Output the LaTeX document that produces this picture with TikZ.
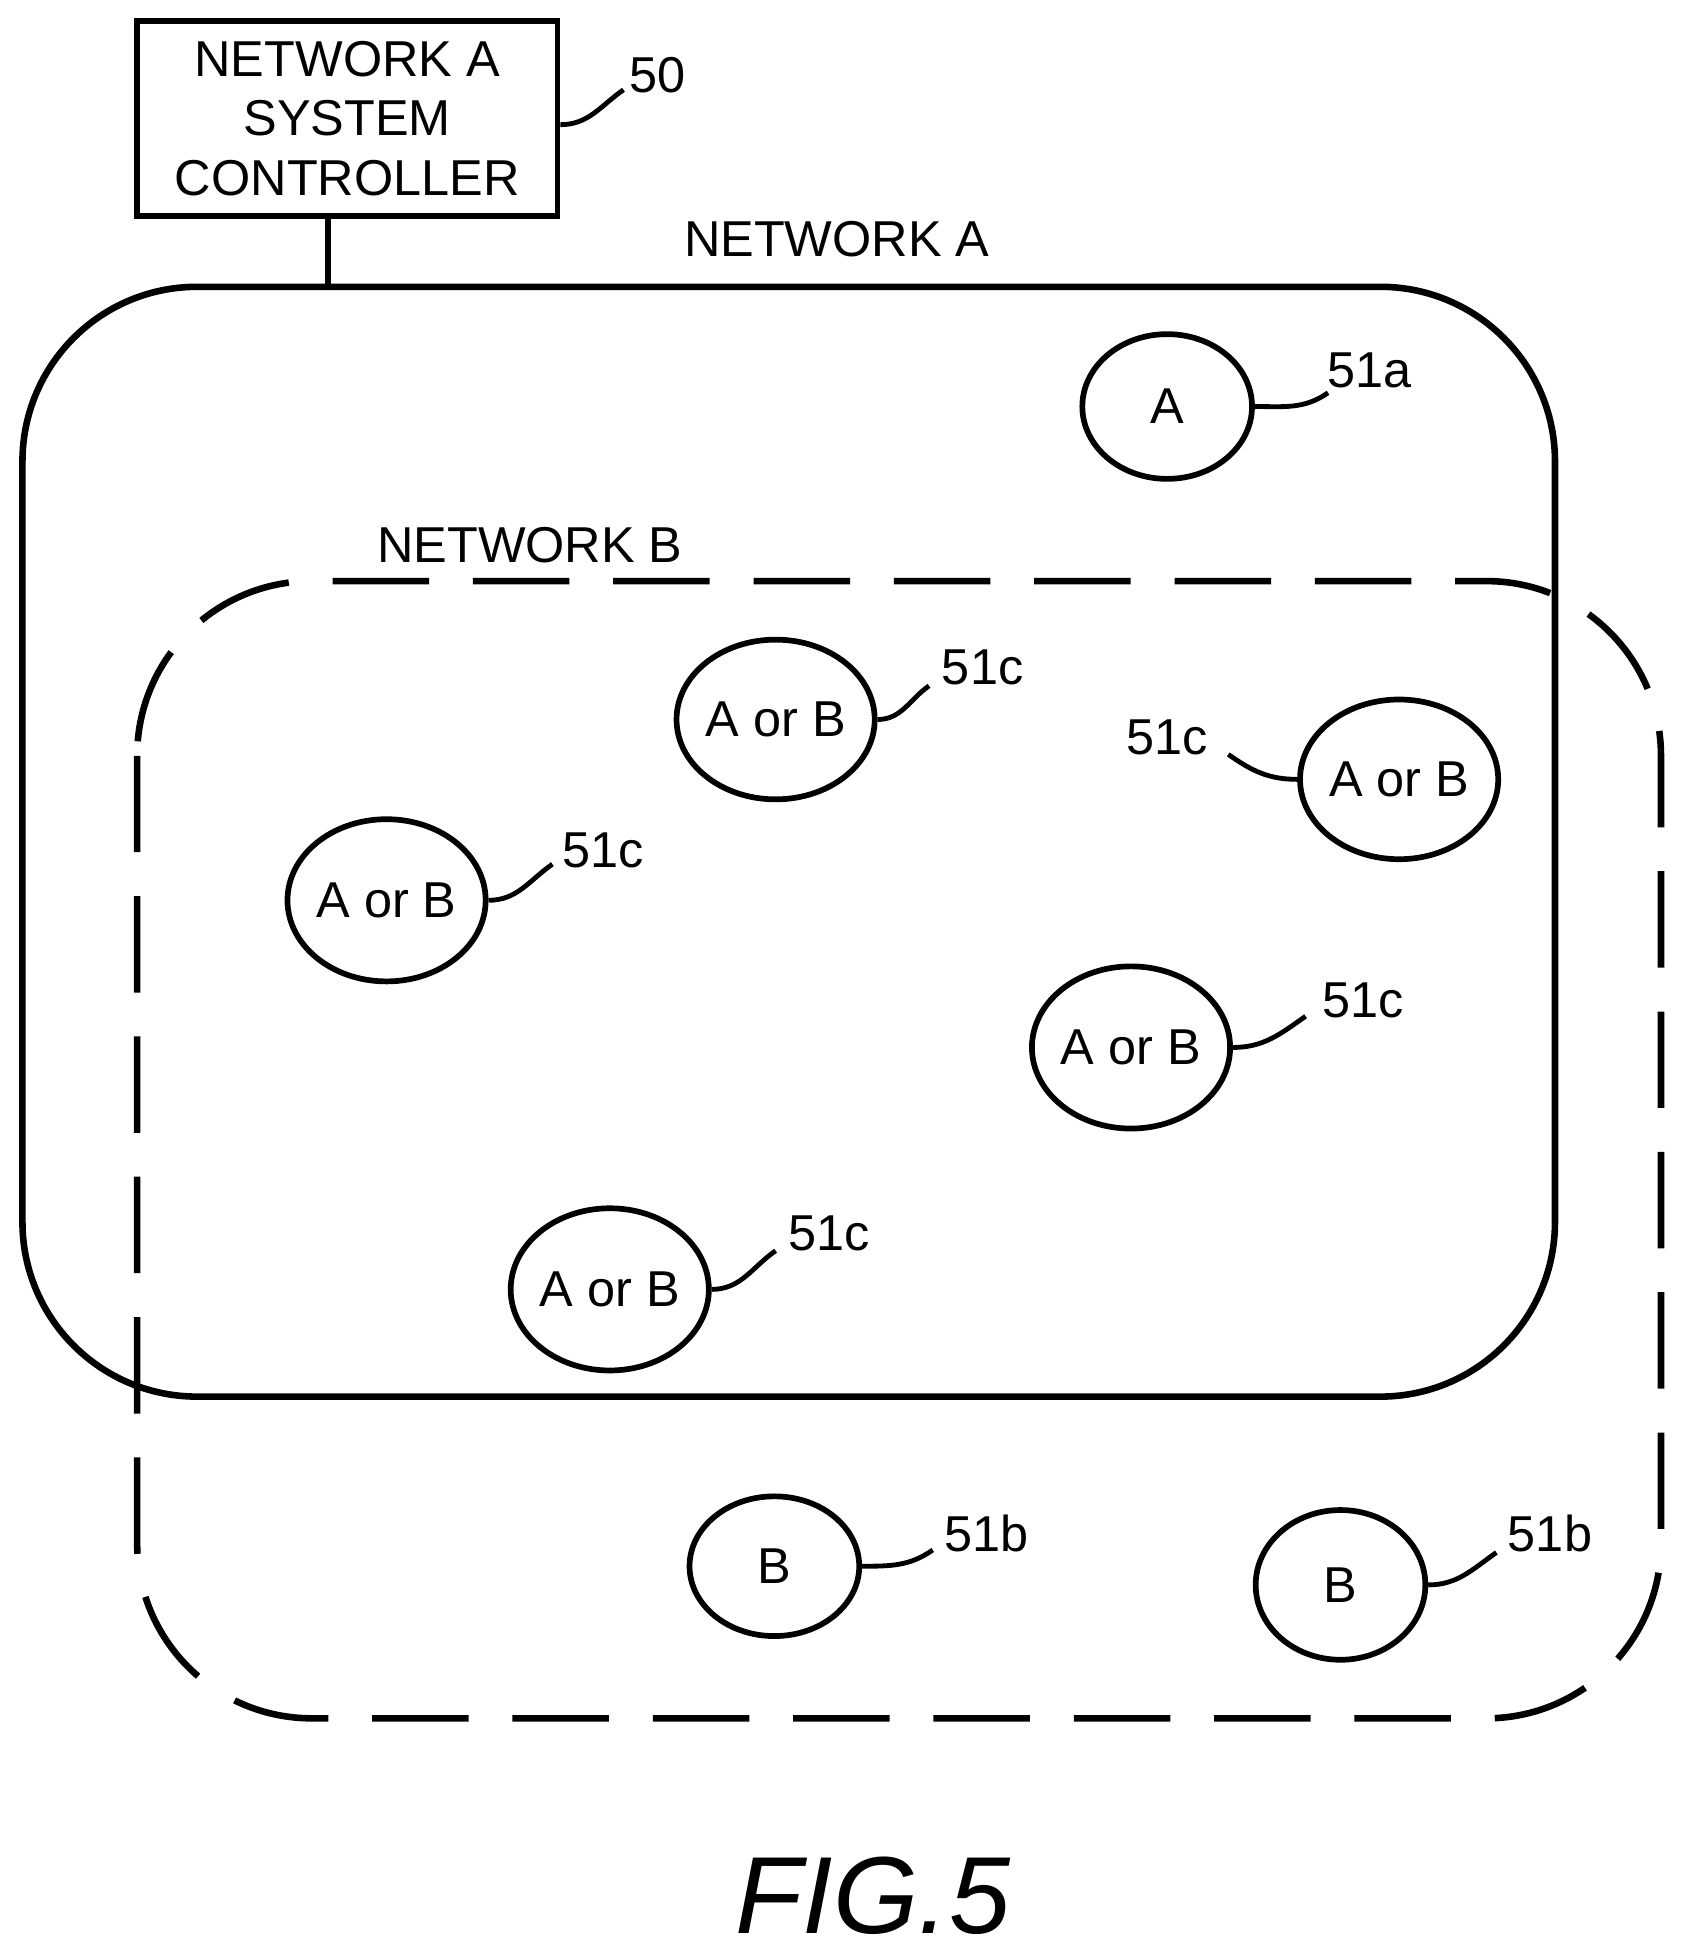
\documentclass[tikz,border=0pt]{standalone}
\usetikzlibrary{shapes.geometric}
\usepackage{fontspec}
\setmainfont{Liberation Sans}
\begin{document}
\begin{tikzpicture}[x=0.01cm,y=-0.01cm,
  lbl/.style={font=\fontsize{11.5pt}{14pt}\selectfont,inner sep=0pt},
  dev/.style={draw,line width=1.3pt,ellipse,inner sep=0pt},
  lead/.style={line width=1.1pt},
  net/.style={line width=1.5pt,rounded corners=1.4cm}]
\useasboundingbox (0,0) rectangle (1350,1567);
\node[draw,line width=1.3pt,minimum width=3.37cm,minimum height=1.56cm,inner sep=0pt,align=center,
  font=\fontsize{11.5pt}{13.6pt}\selectfont] (ctl) at (278.5,95) {NETWORK A\\SYSTEM\\CONTROLLER};
\node[lbl] (l50) at (527,60) {50};
\draw[lead] (ctl.east |- 0,100) to[out=0,in=215] (500,72);
\draw[net] (18,230) rectangle (1247,1120);
\coordinate (ntop) at (263,230);
\draw[line width=1.5pt] (ctl.south -| ntop) -- (ntop);
\node[lbl] (na) at (671,192) {NETWORK A};
\draw[net,dash pattern=on 22pt off 10pt] (110,466) rectangle (1332,1378);
\node[lbl] (nb) at (425,437) {NETWORK B};
\newcommand\dv[8]{%
 \node[dev,minimum width=#3,minimum height=#4,font=\fontsize{11.5pt}{14pt}\selectfont] (#1) at (#2) {#5};
 \node[lbl] (#1l) at (#6) {#7};
 \draw[lead] #8;}
\dv{a}{936,326}{1.36cm}{1.16cm}{A}{1098,297}{51a}{(a.east) to[out=0,in=215] (1065,315)}
\dv{c1}{622,577}{1.36cm}{1.28cm}{A or B}{788,535}{51c}{(c1.east) to[out=0,in=215] (745,550)}
\dv{c2}{1122,625}{1.46cm}{1.28cm}{A or B}{936,591}{51c}{(c2.west) to[out=180,in=-35] (985,605)}
\dv{c3}{310,722}{1.46cm}{1.3cm}{A or B}{484,682}{51c}{(c3.east) to[out=0,in=215] (443,693)}
\dv{c4}{907,840}{1.46cm}{1.3cm}{A or B}{1093,802}{51c}{(c4.east) to[out=0,in=215] (1047,815)}
\dv{c5}{489,1034}{1.46cm}{1.3cm}{A or B}{665,989}{51c}{(c5.east) to[out=0,in=215] (622,1003)}
\dv{b1}{621,1256}{1.36cm}{1.12cm}{B}{791,1230}{51b}{(b1.east) to[out=0,in=215] (748,1243)}
\dv{b2}{1075,1271}{1.36cm}{1.2cm}{B}{1243,1230}{51b}{(b2.east) to[out=0,in=215] (1200,1245)}
\node[font=\fontsize{25pt}{30pt}\itshape\selectfont,inner sep=0pt] (fig) at (700,1520) {FIG.5};
\end{tikzpicture}
\end{document}
